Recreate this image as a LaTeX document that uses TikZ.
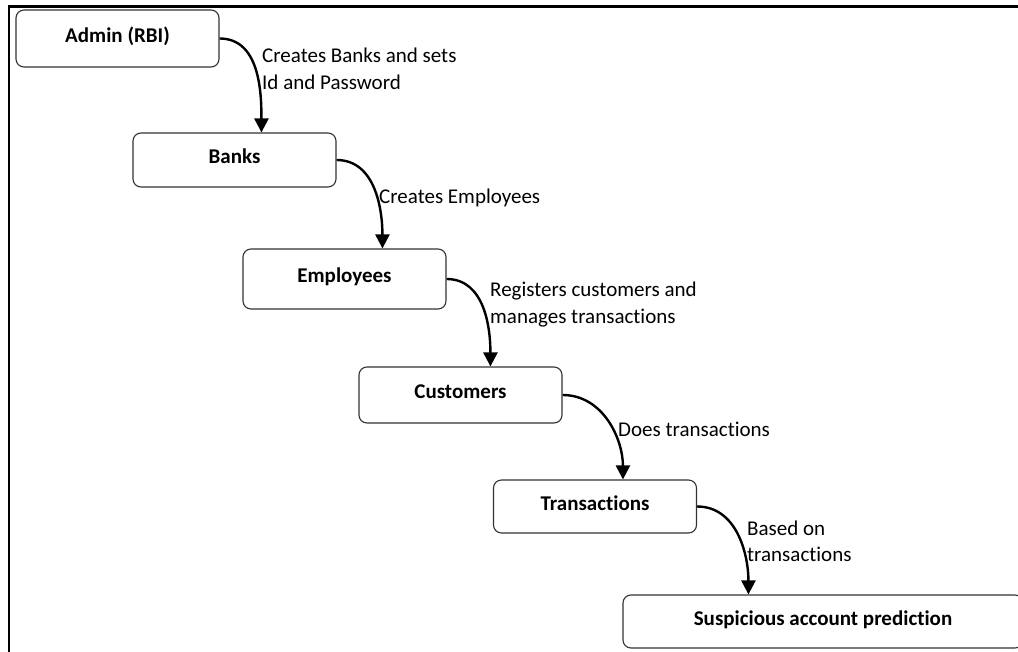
\documentclass[tikz,border=0pt]{standalone}
\usepackage{fontspec}
\setmainfont{Carlito}[Ligatures={NoCommon,NoRare}]
\usetikzlibrary{arrows.meta}
\begin{document}
\begin{tikzpicture}[x=1pt,y=-1pt,
  stage/.style={draw=black!80, line width=1.1pt, rounded corners=8pt,
    minimum width=203pt, inner sep=0pt, text depth=7pt,
    font=\fontsize{21}{26}\selectfont\bfseries},
  flow/.style={line width=2.4pt, -{Triangle[length=14pt,width=14pt]}},
  note/.style={anchor=base west, align=left, inner sep=0pt,
    font=\fontsize{21}{26.6}\selectfont}]
\useasboundingbox (0,0) rectangle (1018,652);
\clip (0,0) rectangle (1018,652);

% outer frame (top and left edges)
\draw[line width=2.4pt] (1030,6.5) -- (8.7,6.5) -- (8.7,670);

% stages of the workflow
\node[stage, minimum height=57pt] (admin) at (117.5,38.5) {Admin (RBI)};
\node[stage, minimum height=54pt] (banks) at (234.5,160) {Banks};
\node[stage, minimum height=60pt] (employees) at (344.5,279) {Employees};
\node[stage, minimum height=56pt] (customers) at (460.5,395) {Customers};
\node[stage, minimum height=53pt] (transactions) at (595,506.5) {Transactions};
\node[stage, minimum height=53pt, minimum width=400pt] (prediction) at (823,621.5) {Suspicious account prediction};

% connector labels (base anchor sits on the last line)
\node[note] (l1) at (262,89.3) {Creates Banks and sets\\Id and Password};
\node[note] (l2) at (379,203.3) {Creates Employees};
\node[note] (l3) at (490,323.5) {Registers customers and\\manages transactions};
\node[note] (l4) at (618,436) {Does transactions};
\node[note] (l5) at (747,561.7) {Based on\\transactions};

% connectors
\draw[flow] (admin.east) to[out=0,in=90] ([xshift=129pt]banks.north west);
\draw[flow] (banks.east) to[out=0,in=90] ([xshift=140pt]employees.north west);
\draw[flow] (employees.east) to[out=0,in=90] ([xshift=132pt]customers.north west);
\draw[flow] (customers.east) to[out=0,in=90] ([xshift=130pt]transactions.north west);
\draw[flow] (transactions.east) to[out=0,in=90] ([xshift=126pt]prediction.north west);
\end{tikzpicture}
\end{document}
